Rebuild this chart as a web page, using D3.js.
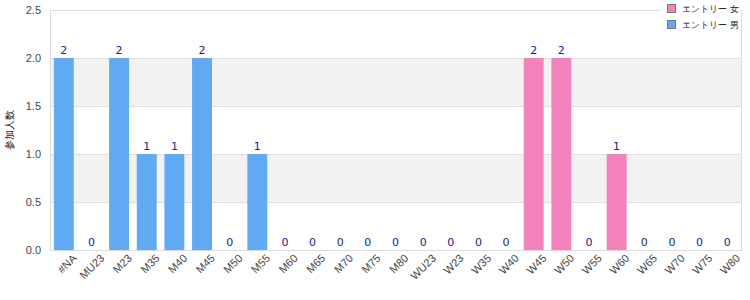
<!DOCTYPE html>
<html>
<head>
<meta charset="utf-8">
<script src="https://cdn.jsdelivr.net/npm/d3@7"></script>
<style>
  body { margin: 0; background: #fff; }
  svg { display: block; font-family: "DejaVu Sans", sans-serif; }
</style>
</head>
<body>
<svg id="chart"></svg>
<script>
// categories (age groups)
const categories = ['#NA', 'MU23', 'M23', 'M35', 'M40', 'M45', 'M50', 'M55', 'M60', 'M65', 'M70', 'M75', 'M80',
    'WU23', 'W23', 'W35', 'W40', 'W45', 'W50', 'W55', 'W60', 'W65', 'W70', 'W75', 'W80'];
// series values
const femaleValues = [0, 0, 0, 0, 0, 0, 0, 0, 0, 0, 0, 0, 0, 0, 0, 0, 0, 2, 2, 0, 1, 0, 0, 0, 0];
const maleValues   = [2, 0, 2, 1, 1, 2, 0, 1, 0, 0, 0, 0, 0, 0, 0, 0, 0, 0, 0, 0, 0, 0, 0, 0, 0];
const seriesNames = ['エントリー 女', 'エントリー 男'];
const yTicks = [0, 0.5, 1, 1.5, 2, 2.5];
const yLabel = '参加人数';

const W = 750, H = 300;
const margin = { top: 10, right: 9, bottom: 50, left: 50 };
const width = W - margin.left - margin.right;
const height = H - margin.top - margin.bottom;

const svg = d3.select('#chart').attr('width', W).attr('height', H);
const g = svg.append('g').attr('transform', `translate(${margin.left},${margin.top})`);

const x = d3.scaleBand().domain(categories).range([0, width]).paddingInner(0.28).paddingOuter(0.14);
const y = d3.scaleLinear().domain([0, 2.5]).range([height, 0]);

// alternating bands
for (let i = 0; i < yTicks.length - 1; i++) {
    g.append('rect')
        .attr('x', 0)
        .attr('y', y(yTicks[i + 1]))
        .attr('width', width)
        .attr('height', y(yTicks[i]) - y(yTicks[i + 1]))
        .attr('fill', i % 2 === 1 ? '#f2f2f2' : '#fff');
}

// grid lines
g.selectAll('.grid')
    .data(yTicks)
    .enter()
    .append('line')
    .attr('x1', 0)
    .attr('x2', width)
    .attr('y1', (d) => Math.round(y(d)) + 0.5)
    .attr('y2', (d) => Math.round(y(d)) + 0.5)
    .attr('stroke', '#e0e0e0');

// frame
g.append('rect')
    .attr('x', 0.5)
    .attr('y', 0.5)
    .attr('width', width)
    .attr('height', height)
    .attr('fill', 'none')
    .attr('stroke', '#dcdcdc');

// y axis
const yAxis = g.append('g')
    .call(d3.axisLeft(y).tickValues(yTicks).tickFormat(d3.format('.1f')).tickSize(0).tickPadding(9));
yAxis.select('.domain').remove();
yAxis.selectAll('text').attr('fill', '#444').style('font-size', '11px');

// x axis
const xAxis = g.append('g')
    .attr('transform', `translate(0,${height})`)
    .call(d3.axisBottom(x).tickSize(0).tickPadding(6));
xAxis.select('.domain').remove();
xAxis.selectAll('text')
    .attr('fill', '#444')
    .style('font-size', '11px')
    .attr('text-anchor', 'end')
    .attr('dx', '0.3em')
    .attr('dy', '0.9em')
    .attr('transform', 'rotate(-45)');

// stacked bars
const rows = categories.map((c, i) => ({ cat: c, female: femaleValues[i], male: maleValues[i] }));
const stack = d3.stack().keys(['female', 'male'])(rows);
const colors = ['#f282b9', '#62a9f4'];

stack.forEach((layer, li) => {
    g.selectAll('.bar' + li)
        .data(layer)
        .enter()
        .append('rect')
        .attr('x', (d) => x(d.data.cat))
        .attr('width', x.bandwidth())
        .attr('y', (d) => y(d[1]))
        .attr('height', (d) => y(d[0]) - y(d[1]))
        .attr('fill', colors[li]);
});

// value labels
g.selectAll('.label')
    .data(rows)
    .enter()
    .append('text')
    .attr('x', (d) => x(d.cat) + x.bandwidth() / 2)
    .attr('y', (d) => y(d.female + d.male) - 4)
    .attr('text-anchor', 'middle')
    .attr('fill', '#1a1a8a')
    .style('font-size', '11px')
    .text((d) => d.female + d.male);

// y axis title
svg.append('text')
    .attr('transform', `translate(9,${margin.top + height / 2}) rotate(-90)`)
    .attr('text-anchor', 'middle')
    .attr('dy', '0.35em')
    .style('font-size', '10px')
    .attr('fill', '#222')
    .text(yLabel);

// legend
const legend = svg.append('g').attr('transform', 'translate(660,0)');
legend.append('rect').attr('x', 0).attr('y', 0).attr('width', 80).attr('height', 34).attr('fill', '#fff');
seriesNames.forEach((name, i) => {
    const row = legend.append('g').attr('transform', `translate(7,${4 + i * 16})`);
    row.append('rect')
        .attr('x', 0.5)
        .attr('y', 0.5)
        .attr('width', 8)
        .attr('height', 8)
        .attr('fill', colors[i])
        .attr('stroke', '#777');
    row.append('text')
        .attr('x', 15)
        .attr('y', 4.5)
        .attr('dy', '0.35em')
        .style('font-size', '9px')
        .attr('fill', '#222')
        .text(name);
});
</script>
</body>
</html>
